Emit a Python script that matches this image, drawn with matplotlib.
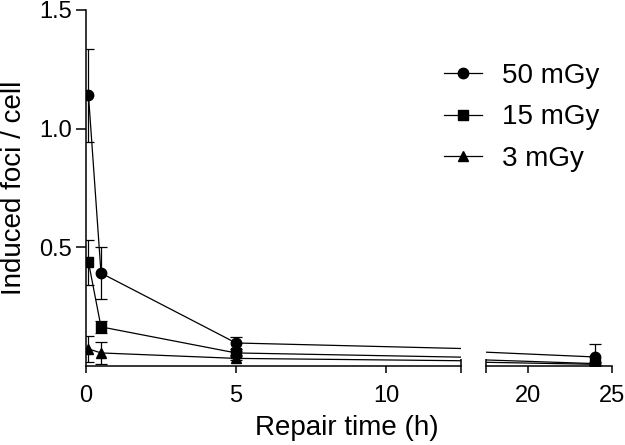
import matplotlib
matplotlib.use('Agg')
from matplotlib import pyplot as plt
from matplotlib.lines import Line2D

plt.rcParams['font.family'] = ['Liberation Sans', 'DejaVu Sans']

times = [0.083, 0.5, 5, 24]
labels = ['50 mGy', '15 mGy', '3 mGy']
markers = ['o', 's', '^']
foci_50 = [1.14, 0.39, 0.095, 0.036]
err_50 = [0.195, 0.11, 0.025, 0.055]
foci_15 = [0.436, 0.163, 0.053, 0.008]
err_15 = [0.095, 0.025, 0.01, 0.006]
foci_3 = [0.07, 0.053, 0.03, 0.005]
err_3 = [0.055, 0.045, 0.008, 0.004]

series = [(foci_50, err_50), (foci_15, err_15), (foci_3, err_3)]

fig = plt.figure(figsize=(6.25, 4.45), dpi=100)
bottom = 1 - 365.5 / 445
top = 1 - 10 / 445
ax1 = fig.add_axes([86 / 625, bottom, 375 / 625, top - bottom])
ax2 = fig.add_axes([486 / 625, bottom, 126 / 625, top - bottom])

for ax in (ax1, ax2):
    for (vals, errs), m in zip(series, markers):
        ax.errorbar(times, vals, yerr=errs, color='black', marker=m,
                    markersize=7.5 if m != '^' else 7, linewidth=0.9,
                    elinewidth=0.9, capsize=4.5, capthick=0.9)
    ax.set_ylim(0, 1.5)
    ax.spines['top'].set_visible(False)
    ax.spines['right'].set_visible(False)
    ax.spines['bottom'].set_linewidth(1.1)
    ax.tick_params(axis='x', direction='out', length=5, width=1.1,
                   labelsize=17, pad=9)

ax1.set_xlim(0, 12.5)
ax2.set_xlim(17.5, 25)
ax1.set_xticks([0, 5, 10])
ax2.set_xticks([20, 25])
ax1.set_xticks([12.5], minor=True)
ax2.set_xticks([17.5], minor=True)
for ax in (ax1, ax2):
    ax.tick_params(axis='x', which='minor', direction='inout', length=10,
                   width=1.1)

ax1.spines['left'].set_linewidth(1.1)
ax1.set_yticks([0.5, 1.0, 1.5])
ax1.set_yticklabels(['0.5', '1.0', '1.5'])
ax1.tick_params(axis='y', direction='out', length=7, width=1.1,
                labelsize=17, pad=3)
ax2.spines['left'].set_visible(False)
ax2.set_yticks([])
ax2.patch.set_alpha(0)

fig.text(347 / 625, 0.008, 'Repair time (h)', fontsize=20,
         ha='center', va='bottom')
fig.text(0.002, 0.579, 'Induced foci / cell', fontsize=20,
         rotation=90, ha='left', va='center')

handles = [Line2D([], [], color='black', marker=m, linewidth=0.9,
                  markersize=7.5 if m != '^' else 7) for m in markers]
fig.legend(handles, labels, loc='upper left',
           bbox_to_anchor=(433 / 625, 1 - 52 / 445), frameon=False,
           fontsize=20, handlelength=1.35, handletextpad=0.75,
           labelspacing=0.55, borderaxespad=0)

fig.savefig('out.png', dpi=100)
